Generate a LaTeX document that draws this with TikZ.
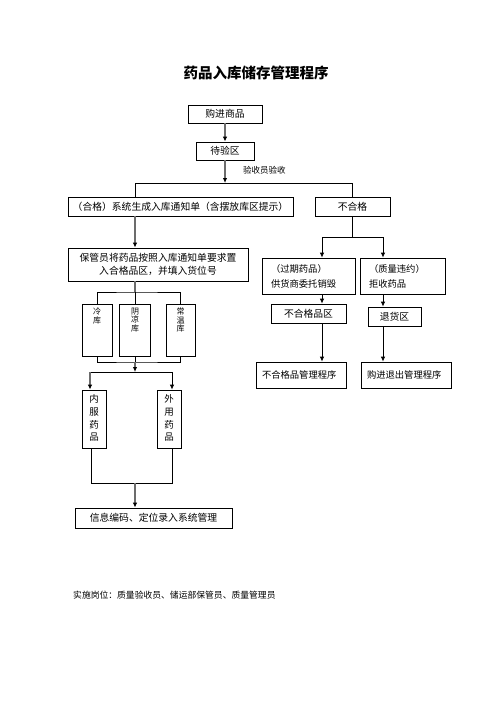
\documentclass[tikz,border=0pt]{standalone}
\usepackage{fontspec}
\setmainfont{Noto Sans CJK SC}
\usetikzlibrary{arrows.meta}
\begin{document}
\begin{tikzpicture}[x=1pt,y=-1pt,
 box/.style={draw=black, line width=0.8pt, inner sep=0pt, font=\fontsize{9.8}{13}\selectfont, align=center},
 lbox/.style={box, align=left, inner xsep=#1},
 vtext/.style={anchor=north, inner sep=0pt, align=center},
 ln/.style={draw=black, line width=0.8pt},
 gl/.style={draw=gray!85!black, line width=1.6pt},
 tip/.style={-{Latex[length=5pt,width=4.5pt,color=black]}},
]
\useasboundingbox[fill=white] (0,0) rectangle (496,702);
\node[font=\fontsize{14.5}{16}\selectfont\bfseries] (title) at (256,73) {药品入库储存管理程序};
\node[box, minimum width=74, minimum height=18] (buy) at (225,114) {购进商品};
\node[box, minimum width=58, minimum height=18] (wait) at (225,151) {待验区};
\node[anchor=west, inner sep=0pt, font=\fontsize{8.5}{10}\selectfont] (chk) at (243,170) {验收员验收};
\node[box, minimum width=225, minimum height=19] (ok) at (180.5,206.5) {（合格）系统生成入库通知单（含摆放库区提示）};
\node[box, minimum width=75, minimum height=19] (nok) at (352.5,206.5) {不合格};
\node[box, minimum width=180, minimum height=33] (keeper) at (158,264.5) {保管员将药品按照入库通知单要求置\\入合格品区，并填入货位号};
\node[lbox=9pt, text width=75pt, minimum height=36, font=\fontsize{9.3}{15}\selectfont] (expired) at (308.5,276) {（过期药品）\\供货商委托销毁};
\node[lbox=9pt, text width=67pt, minimum height=36, font=\fontsize{9.3}{15}\selectfont] (reject) at (402.5,276) {（质量违约）\\拒收药品};
\node[box, minimum width=75, minimum height=19] (unq) at (308.5,313.5) {不合格品区};
\node[box, minimum width=53, minimum height=19] (retzone) at (394.5,316.5) {退货区};
\node[lbox=6pt, text width=78pt, minimum height=26, font=\fontsize{9.3}{12}\selectfont] (unqproc) at (301,375) {不合格品管理程序};
\node[lbox=6pt, text width=78pt, minimum height=26, font=\fontsize{9.3}{12}\selectfont] (retproc) at (406,375) {购进退出管理程序};
\node[box, minimum width=30, minimum height=52] (cold) at (97,330) {};
\node[box, minimum width=31, minimum height=52] (cool) at (135,330) {};
\node[box, minimum width=29, minimum height=52] (normal) at (180.5,330) {};
\node[vtext, font=\fontsize{8}{8.7}\selectfont] (coldt) at ([yshift=-4pt]cold.north) {冷\\库};
\node[vtext, font=\fontsize{8}{8.7}\selectfont] (coolt) at ([yshift=-4pt]cool.north) {阴\\凉\\库};
\node[vtext, font=\fontsize{8}{8.7}\selectfont] (normalt) at ([yshift=-4pt]normal.north) {常\\温\\库};
\node[box, minimum width=24, minimum height=58] (inner) at (94,419) {};
\node[box, minimum width=24, minimum height=58] (outer) at (169,419) {};
\node[vtext, font=\fontsize{9.5}{12.7}\selectfont] (innert) at ([yshift=-5pt]inner.north) {内\\服\\药\\品};
\node[vtext, font=\fontsize{9.5}{12.7}\selectfont] (outert) at ([yshift=-5pt]outer.north) {外\\用\\药\\品};
\node[box, minimum width=157, minimum height=20] (info) at (153.5,518) {信息编码、定位录入系统管理};
\node[anchor=west, inner sep=0pt, font=\fontsize{8.8}{10}\selectfont] (foot) at (73,595) {实施岗位：质量验收员、储运部保管员、质量管理员};
% connectors
\coordinate (j1) at (225,183);
\coordinate (j1l) at (135,183);
\coordinate (j1r) at (352.5,183);
\draw[gl,tip] (buy.south) -- (wait.north);
\draw[gl,tip] (wait.south) -- (j1);
\draw[ln] (ok.north -| j1l) -- (j1l) -- (j1r) -- (nok.north);
\draw[gl,tip] (ok.south -| j1l) -- (keeper.north -| j1l);
\coordinate (j2) at (352.5,237);
\coordinate (j2l) at (322,237);
\coordinate (j2r) at (383,237);
\draw[ln] (nok.south) -- (j2);
\draw[ln] (j2l) -- (j2r);
\draw[ln,tip] (j2l) -- (expired.north -| j2l);
\draw[ln,tip] (j2r) -- (reject.north -| j2r);
\draw[ln,tip] (expired.south -| j2l) -- (unq.north -| j2l);
\draw[ln,tip] (unq.south -| j2l) -- (unqproc.north -| j2l);
\draw[ln,tip] (reject.south -| j2r) -- (retzone.north -| j2r);
\draw[ln,tip] (retzone.south -| j2r) -- (retproc.north -| j2r);
\coordinate (j3) at (135,292);
\draw[gl] (keeper.south -| j3) -- (j3);
\draw[ln] (cold.north) |- (j3) -| (normal.north);
\draw[ln] (j3) -- (cool.north);
\coordinate (j4) at (135,362);
\draw[ln] (cold.south) |- (j4) -| (normal.south);
\draw[ln] (cool.south) -- (j4);
\coordinate (j5) at (135,372);
\coordinate (j5l) at (90,372);
\coordinate (j5r) at (172,372);
\draw[gl,tip] (j4) -- (j5);
\draw[ln] (j5l) -- (j5r);
\draw[gl,tip] (j5l) -- (inner.north -| j5l);
\draw[ln,tip] (j5r) -- (outer.north -| j5r);
\coordinate (j6) at (135,483);
\coordinate (j6l) at (91,483);
\coordinate (j6r) at (172,483);
\draw[ln] (inner.south -| j6l) -- (j6l) -- (j6r) -- (outer.south -| j6r);
\draw[gl,tip] (j6) -- (info.north -| j6);
\end{tikzpicture}
\end{document}
